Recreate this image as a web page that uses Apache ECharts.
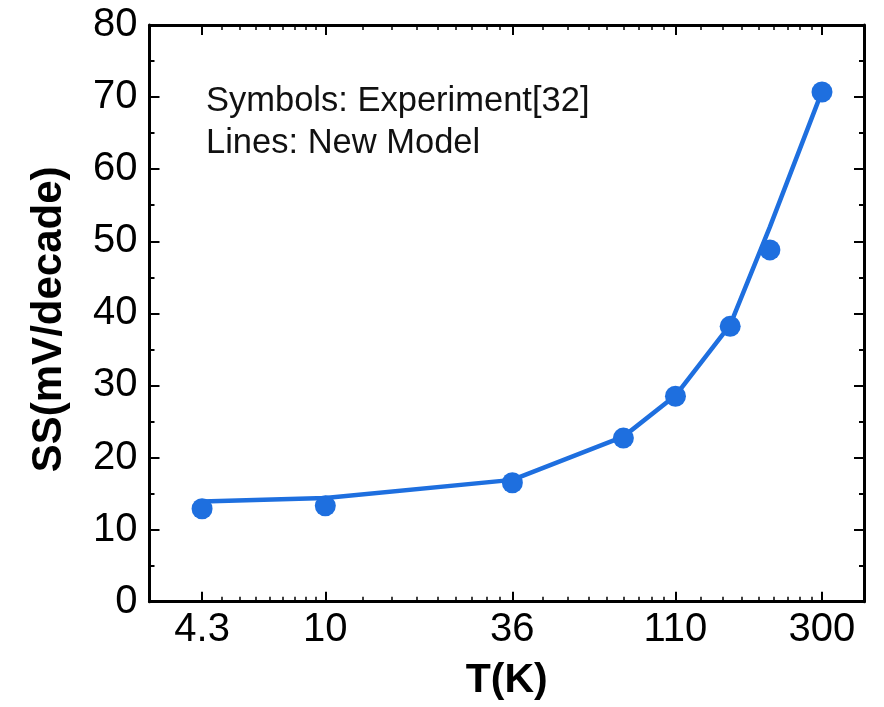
<!DOCTYPE html>
<html>
<head>
<meta charset="utf-8">
<script src="https://cdn.jsdelivr.net/npm/echarts@6/dist/echarts.min.js"></script>
<style>
html,body{margin:0;padding:0;background:#fff;}
#chart{width:884px;height:707px;}
</style>
</head>
<body>
<div id="chart"></div>
<script>
// ---- data ----
const temperatures = [4.3, 10, 36, 77, 110, 160, 210, 300];          // T (K)
const experiment   = [12.9, 13.3, 16.5, 22.7, 28.5, 38.2, 48.8, 70.7]; // symbols
const model        = [13.9, 14.4, 16.9, 22.9, 28.6, 38.4, 52.0, 70.8]; // line
const xTickLabels  = [4.3, 10, 36, 110, 300];
const yTicks       = [0, 10, 20, 30, 40, 50, 60, 70, 80];
const legendLines  = ['Symbols: Experiment[32]', 'Lines: New Model'];

// minor ticks: 9 equal sub-steps between consecutive labelled ticks
const xMinorTicks = [];
for (let i = 0; i < xTickLabels.length - 1; i++) {
  const a = xTickLabels[i], b = xTickLabels[i + 1];
  for (let k = 1; k < 9; k++) xMinorTicks.push(a + (b - a) * k / 9);
}

const FONT = "'Liberation Sans', Arial, Helvetica, sans-serif";
const BLUE = '#1E6FDF';
const XMIN = 3, XMAX = 400;

const chart = echarts.init(document.getElementById('chart'), null, {renderer: 'canvas'});

function xAx(opts) {
  return Object.assign({
    type: 'log', logBase: 10, min: XMIN, max: XMAX, gridIndex: 0,
    splitLine: {show: false},
    axisLine: {show: false, onZero: false},
    axisLabel: {show: false},
    axisTick: {show: false}
  }, opts);
}

const option = {
  animation: false,
  backgroundColor: '#fff',
  grid: {left: 149.5, right: 20, top: 25, bottom: 105.3, containLabel: false, outerBoundsMode: 'none'},
  xAxis: [
    xAx({
      position: 'bottom',
      axisLine: {show: true, onZero: false, lineStyle: {color: '#000', width: 3}},
      axisTick: {show: true, inside: true, length: 10, customValues: xTickLabels, lineStyle: {color: '#000', width: 2}},
      axisLabel: {show: true, customValues: xTickLabels, margin: 8, fontSize: 40, color: '#000', fontFamily: FONT,
                  formatter: v => String(Math.round(v * 10) / 10)},
      name: 'T(K)', nameLocation: 'middle', nameGap: 58,
      nameTextStyle: {fontSize: 41, fontWeight: 'bold', color: '#000', fontFamily: FONT}
    }),
    xAx({
      position: 'bottom',
      axisTick: {show: true, inside: true, length: 5, customValues: xMinorTicks, lineStyle: {color: '#000', width: 1.5}}
    }),
    xAx({
      position: 'top',
      axisLine: {show: true, onZero: false, lineStyle: {color: '#000', width: 3}},
      axisTick: {show: true, inside: true, length: 10, customValues: xTickLabels, lineStyle: {color: '#000', width: 2}}
    }),
    xAx({
      position: 'top',
      axisTick: {show: true, inside: true, length: 5, customValues: xMinorTicks, lineStyle: {color: '#000', width: 1.5}}
    })
  ],
  yAxis: [
    {
      type: 'value', position: 'left', min: yTicks[0], max: yTicks[yTicks.length - 1], interval: 10,
      splitLine: {show: false},
      axisLine: {show: true, onZero: false, lineStyle: {color: '#000', width: 3}},
      axisTick: {show: true, inside: true, length: 10, lineStyle: {color: '#000', width: 2}},
      minorTick: {show: true, splitNumber: 2, length: 5, lineStyle: {color: '#000', width: 2}},
      axisLabel: {margin: 12, fontSize: 40, color: '#000', fontFamily: FONT},
      name: 'SS(mV/decade)', nameLocation: 'middle', nameGap: 79, nameRotate: 90,
      nameTextStyle: {fontSize: 42, fontWeight: 'bold', color: '#000', fontFamily: FONT, padding: [0, 12, 0, 0]}
    },
    {
      type: 'value', position: 'right', min: yTicks[0], max: yTicks[yTicks.length - 1], interval: 10,
      splitLine: {show: false},
      axisLine: {show: true, onZero: false, lineStyle: {color: '#000', width: 3}},
      axisTick: {show: true, inside: true, length: 10, lineStyle: {color: '#000', width: 2}},
      minorTick: {show: true, splitNumber: 2, length: 5, lineStyle: {color: '#000', width: 2}},
      axisLabel: {show: false}
    }
  ],
  series: [
    {
      name: 'New Model', type: 'line', xAxisIndex: 0, yAxisIndex: 0,
      data: temperatures.map((t, i) => [t, model[i]]),
      showSymbol: false, symbol: 'none',
      lineStyle: {color: BLUE, width: 4.5}, z: 2
    },
    {
      name: 'Experiment[32]', type: 'scatter', xAxisIndex: 0, yAxisIndex: 0,
      data: temperatures.map((t, i) => [t, experiment[i]]),
      symbol: 'circle', symbolSize: 21,
      itemStyle: {color: BLUE, opacity: 1}, z: 3
    }
  ],
  graphic: [
    {
      type: 'text', left: 206, top: 80,
      style: {text: legendLines.join('\n'), fontSize: 34.5, lineHeight: 42, fill: '#111', fontFamily: FONT}
    }
  ]
};

chart.setOption(option);
</script>
</body>
</html>
